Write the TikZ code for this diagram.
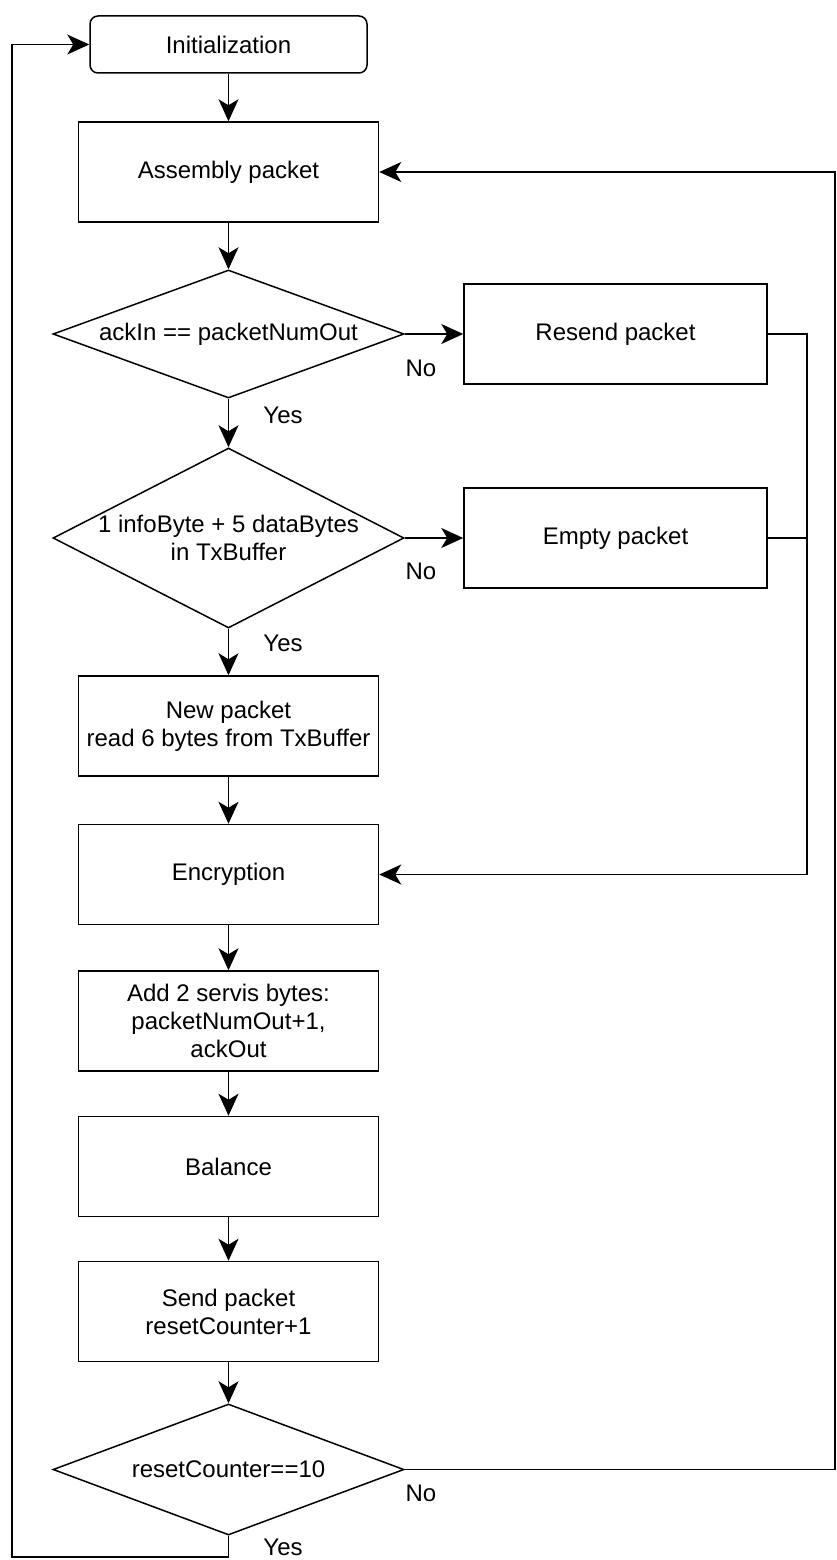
\documentclass[tikz,border=0pt]{standalone}
\usepackage{fontspec}
\setmainfont{Liberation Sans}
\usetikzlibrary{shapes.geometric,arrows.meta}
\begin{document}
\begin{tikzpicture}[x=1pt,y=-1pt,
  font=\fontsize{24}{28}\selectfont,
  box/.style={draw, line width=1.5pt, minimum width=300pt, minimum height=100pt, align=center, inner sep=2pt},
  decision/.style={draw, diamond, line width=1.5pt, minimum width=351pt, minimum height=128pt, inner sep=0pt},
  flow/.style={draw, line width=1.5pt, -{Stealth[length=22pt,width=20pt,inset=6pt]}},
  plain/.style={draw, line width=1.5pt},
  tag/.style={inner sep=0pt}
]
\useasboundingbox (0,0) rectangle (836,1560);

% main column
\node[box, rounded corners=8pt, minimum width=277pt, minimum height=57pt] (init) at (228.5,44.5) {Initialization};
\node[box] (asm) at (228.5,172) {Assembly packet};
\node[decision, label={center:ackIn == packetNumOut}] (d1) at (228.5,334) {};
\node[decision, minimum height=180pt, label={[align=center]center:1 infoByte + 5 dataBytes\\in TxBuffer}] (d2) at (228.5,538) {};
\node[box] (new) at (228.5,726) {New packet\\read 6 bytes from TxBuffer};
\node[box] (enc) at (228.5,874.5) {Encryption};
\node[box] (add) at (228.5,1021) {Add 2 servis bytes:\\packetNumOut+1,\\ackOut};
\node[box] (bal) at (228.5,1166.5) {Balance};
\node[box] (send) at (228.5,1311.5) {Send packet\\resetCounter+1};
\node[decision, minimum height=131pt, label={center:resetCounter==10}] (d3) at (228.5,1469.5) {};

% side branches
\node[box, minimum width=303pt] (resend) at (615.5,334) {Resend packet};
\node[box, minimum width=303pt] (empty) at (615.5,538) {Empty packet};

% branch labels
\node[tag] (no1) at (421,368) {No};
\node[tag] (no2) at (421,571) {No};
\node[tag] (no3) at (421,1493) {No};
\node[tag] (yes1) at (283,415) {Yes};
\node[tag] (yes2) at (283,643) {Yes};
\node[tag] (yes3) at (283,1547) {Yes};

% routing coordinates
\coordinate (jr) at (807,0);
\coordinate (rr) at (835,0);
\coordinate (ll) at (12,1557);

% straight flow
\draw[flow] (init) -- (asm);
\draw[flow] (asm) -- (d1);
\draw[flow] (d1) -- (d2);
\draw[flow] (d2) -- (new);
\draw[flow] (new) -- (enc);
\draw[flow] (enc) -- (add);
\draw[flow] (add) -- (bal);
\draw[flow] (bal) -- (send);
\draw[flow] (send) -- (d3);

% "No" branches
\draw[flow] (d1.east) -- (resend.west);
\draw[flow] (d2.east) -- (empty.west);
\draw[flow] (resend.east) -| (jr |- enc) -- (enc.east);
\draw[plain] (empty.east) -- (jr |- empty);

% loops back
\draw[flow] (d3.east) -- (rr |- d3) -- (rr |- asm) -- (asm.east);
\draw[flow] (d3.south) -- (d3.south |- ll) -- (ll) -- (ll |- init) -- (init.west);
\end{tikzpicture}
\end{document}
